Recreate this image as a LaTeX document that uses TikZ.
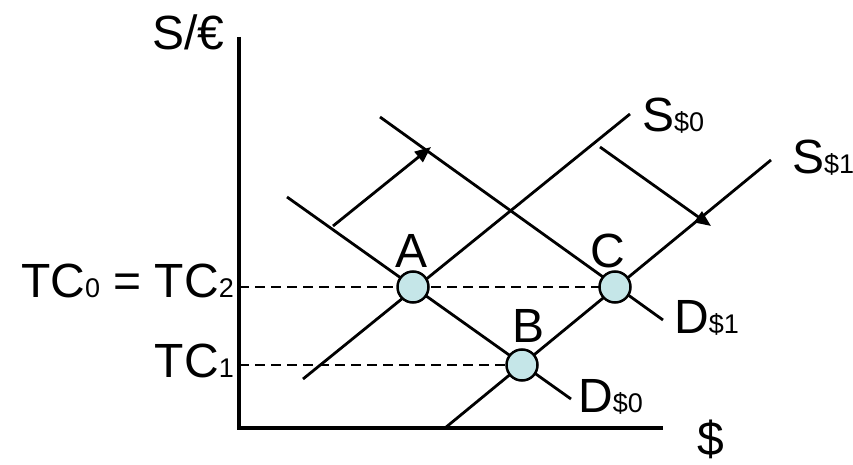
\documentclass[tikz,border=0pt]{standalone}
\usepackage{fontspec}
\setmainfont{Liberation Sans}
\usetikzlibrary{arrows.meta}
\definecolor{ptfill}{HTML}{C5E6E8}
\newcommand{\bigf}{\fontsize{48}{50}\selectfont}
\newcommand{\subf}[1]{{\fontsize{27}{28}\selectfont #1}}
\begin{document}
\begin{tikzpicture}[x=1pt,y=-1pt,
  axisline/.style={line width=3.2pt},
  curve/.style={line width=2.8pt},
  dashline/.style={line width=2.8pt,dash pattern=on 10pt off 6pt},
  shiftarrow/.style={line width=2.8pt,-{Triangle[length=16pt,width=13pt]}},
  pt/.style={circle,draw,line width=2.5pt,fill=ptfill,minimum size=31pt,inner sep=0pt},
  lbl/.style={inner sep=0pt,font=\bigf}]
\useasboundingbox (0,0) rectangle (853,465);
% axes
\coordinate (origin) at (239,428);
\coordinate (ytop) at (239,37);
\coordinate (xend) at (663,428);
\draw[axisline] (ytop) -- (origin) -- (xend);
% points
\coordinate (A) at (413,287);
\coordinate (B) at (522,365);
\coordinate (C) at (615,287);
\coordinate (yA) at (239,287);
\coordinate (yB) at (239,365);
% dashed guides
\draw[dashline] (yA) -- (C);
\draw[dashline] (yB) -- (B);
% demand curves
\coordinate (d0a) at (287,197);
\coordinate (d0b) at (571,399);
\coordinate (d1a) at (380,117);
\coordinate (d1b) at (663,320);
\draw[curve] (d0a) -- (d0b);
\draw[curve] (d1a) -- (d1b);
% supply curves
\coordinate (s0a) at (303,379);
\coordinate (s0b) at (630,114);
\coordinate (s1a) at (445,428);
\coordinate (s1b) at (771,160);
\draw[curve] (s0a) -- (s0b);
\draw[curve] (s1a) -- (s1b);
% shift arrows
\coordinate (ar1a) at (333,226);
\coordinate (ar1b) at (431,147);
\coordinate (ar2a) at (600,147);
\coordinate (ar2b) at (711,226);
\draw[shiftarrow] (ar1a) -- (ar1b);
\draw[shiftarrow] (ar2a) -- (ar2b);
% equilibrium points
\node[pt] (pA) at (A) {};
\node[pt] (pB) at (B) {};
\node[pt] (pC) at (C) {};
% labels
\node[lbl,anchor=base] (lA) at (412,267) {A};
\node[lbl,anchor=base] (lB) at (528,342) {B};
\node[lbl,anchor=base] (lC) at (608,267) {C};
\node[lbl,anchor=base west] (ylab) at (152,50) {S/€};
\node[lbl,anchor=base west] (xlab) at (697,455) {\$};
\node[lbl,anchor=base east] (tc02) at (234,297) {TC\subf{0} = TC\subf{2}};
\node[lbl,anchor=base east] (tc1) at (234,377) {TC\subf{1}};
\node[lbl,anchor=base west] (ls0) at (642,132) {S\subf{\$0}};
\node[lbl,anchor=base west] (ls1) at (792,174) {S\subf{\$1}};
\node[lbl,anchor=base west] (ld1) at (674,333) {D\subf{\$1}};
\node[lbl,anchor=base west] (ld0) at (578,412) {D\subf{\$0}};
\end{tikzpicture}
\end{document}
